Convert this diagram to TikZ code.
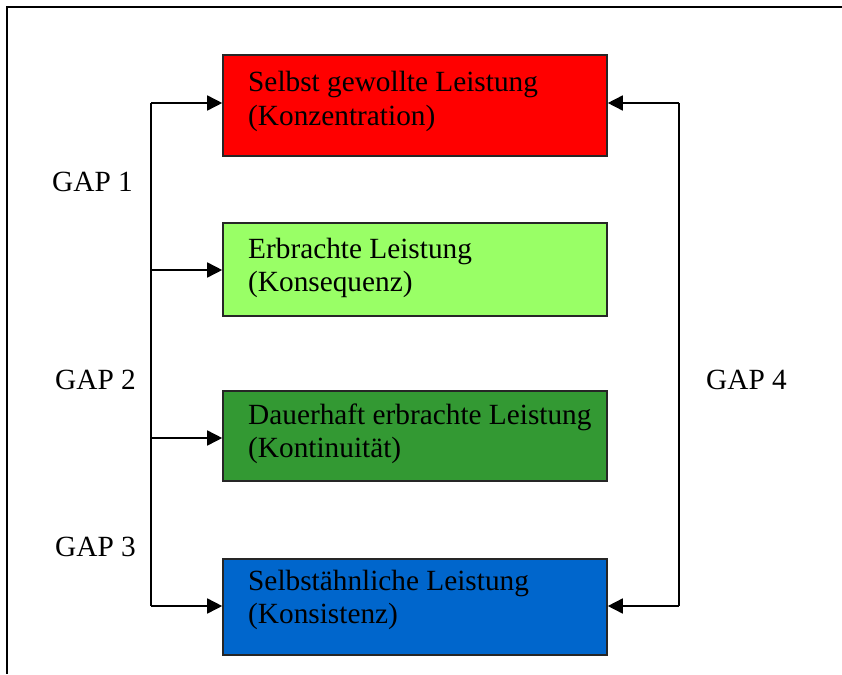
\documentclass[tikz,border=0pt]{standalone}
\usepackage{fontspec}
\setmainfont{Liberation Serif}
\usetikzlibrary{arrows.meta}
\definecolor{cRed}{HTML}{FF0000}
\definecolor{cLight}{HTML}{99FF66}
\definecolor{cDark}{HTML}{339933}
\definecolor{cBlue}{HTML}{0066CC}
\begin{document}
\begin{tikzpicture}[x=1pt,y=-1pt,
  box/.style={draw=black!85,line width=1.6pt,rectangle,inner sep=0pt,minimum width=384pt},
  txt/.style={anchor=base west,inner sep=0pt,font=\fontsize{29.3}{34}\selectfont,align=left},
  gap/.style={anchor=base west,inner sep=0pt,font=\fontsize{29.3}{34}\selectfont},
  line/.style={line width=1.6pt,draw=black},
  arr/.style={line width=1.6pt,-{Triangle[length=15pt,width=15pt]}}]
\useasboundingbox (0,0) rectangle (842,674);
\fill[white] (0,0) rectangle (842,674);
% frame
\coordinate (fTR) at (842,7);
\coordinate (fTL) at (7,7);
\coordinate (fBL) at (7,674);
\draw[line width=1.8pt] (fTR) -- (fTL) -- (fBL);
% boxes
\node[box,fill=cRed,minimum height=101pt] (b1) at (415,105.5) {};
\node[box,fill=cLight,minimum height=93pt] (b2) at (415,269.5) {};
\node[box,fill=cDark,minimum height=90pt] (b3) at (415,436) {};
\node[box,fill=cBlue,minimum height=96pt] (b4) at (415,607) {};
% texts
\node[txt] (t1a) at (248,92) {Selbst gewollte Leistung};
\node[txt] (t1b) at (248,125) {(Konzentration)};
\node[txt] (t2a) at (248,258) {Erbrachte Leistung};
\node[txt] (t2b) at (248,291) {(Konsequenz)};
\node[txt] (t3a) at (248,424) {Dauerhaft erbrachte Leistung};
\node[txt] (t3b) at (248,457) {(Kontinuität)};
\node[txt] (t4a) at (248,590) {Selbstähnliche Leistung};
\node[txt] (t4b) at (248,623) {(Konsistenz)};
% gap labels
\node[gap] (g1) at (52,191) {GAP 1};
\node[gap] (g2) at (55,389) {GAP 2};
\node[gap] (g3) at (55,556) {GAP 3};
\node[gap] (g4) at (706,389) {GAP 4};
% left bracket
\coordinate (L1) at (151,103);
\coordinate (L2) at (151,270);
\coordinate (L3) at (151,438);
\coordinate (L4) at (151,606);
\draw[line] (L1) -- (L4);
\draw[arr] (L1) -- (L1 -| b1.west);
\draw[arr] (L2) -- (L2 -| b2.west);
\draw[arr] (L3) -- (L3 -| b3.west);
\draw[arr] (L4) -- (L4 -| b4.west);
% right bracket
\coordinate (R1) at (679,103);
\coordinate (R4) at (679,606);
\draw[line] (R1) -- (R4);
\draw[arr] (R1) -- (R1 -| b1.east);
\draw[arr] (R4) -- (R4 -| b4.east);
\end{tikzpicture}
\end{document}
